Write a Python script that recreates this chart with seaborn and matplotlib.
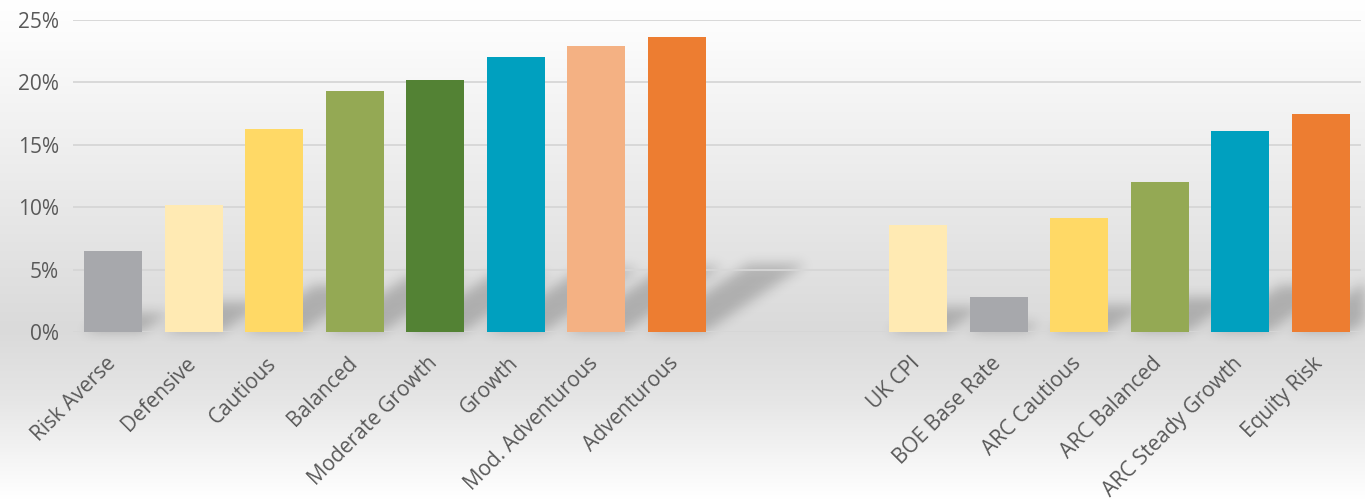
import numpy as np
import pandas as pd
import matplotlib
matplotlib.use("Agg")
import matplotlib.pyplot as plt
import matplotlib.transforms as mtransforms
import seaborn as sns
from matplotlib.ticker import FuncFormatter

# ---- data ----
portfolios = ["Risk Averse", "Defensive", "Cautious", "Balanced", "Moderate Growth",
              "Growth", "Mod. Adventurous", "Adventurous"]
portfolio_values = [6.5, 10.2, 16.3, 19.3, 20.2, 22.0, 22.9, 23.6]
benchmarks = ["UK CPI", "BOE Base Rate", "ARC Cautious", "ARC Balanced",
              "ARC Steady Growth", "Equity Risk"]
benchmark_values = [8.6, 2.8, 9.1, 12.0, 16.1, 17.5]
gap_slots = ["_gap1", "_gap2"]
yticks = [0, 5, 10, 15, 20, 25]

portfolio_colors = ["#A7A8AC", "#FFEAB3", "#FFD966", "#94A954", "#538234",
                    "#00A0BF", "#F4B183", "#ED7D31"]
benchmark_colors = ["#FFEAB3", "#A7A8AC", "#FFD966", "#94A954", "#00A0BF", "#ED7D31"]

df = pd.DataFrame({
    "name": portfolios + benchmarks,
    "value": portfolio_values + benchmark_values,
})
order = portfolios + gap_slots + benchmarks
palette = dict(zip(portfolios + benchmarks, portfolio_colors + benchmark_colors))

sns.set_theme(style="white")
plt.rcParams["font.family"] = ["Open Sans", "DejaVu Sans"]

W, H = 1365, 499
fig = plt.figure(figsize=(W / 100, H / 100), dpi=100)

# background gradient
bg = fig.add_axes([0, 0, 1, 1], zorder=-10)
ys = np.linspace(0, 1, 500)
stops_y = [0.0, 0.08, 0.66, 0.80, 1.0]
stops_v = [1.0, 0.985, 0.855, 0.90, 1.0]
vals = np.interp(ys, stops_y, stops_v)
grad = np.repeat(vals[:, None], 2, axis=1)
bg.imshow(np.dstack([grad, grad, grad]), aspect="auto", extent=[0, 1, 0, 1],
          origin="upper", zorder=0)
bg.set_xlim(0, 1)
bg.set_ylim(0, 1)
bg.set_axis_off()

ax = fig.add_axes([0.0535, 0.3347, 0.9435, 0.6253])
ax.patch.set_alpha(0)
sns.barplot(data=df, x="name", y="value", hue="name", order=order, palette=palette,
            legend=False, width=0.72, saturation=1, linewidth=0, ax=ax)

ax.set_xlim(-0.5, len(order) - 0.5)
ax.set_ylim(0, 25)
ax.set_yticks(yticks)
ax.yaxis.set_major_formatter(FuncFormatter(lambda v, p: f"{v:.0f}%"))
ax.grid(axis="y", color="#D6D6D6", linewidth=1.3)
ax.set_axisbelow(True)
for s in ax.spines.values():
    s.set_visible(False)
ax.set_xlabel("")
ax.set_ylabel("")
ax.set_xticks(range(len(order)))
ax.set_xticklabels([("" if n.startswith("_gap") else n) for n in order],
                   rotation=45, ha="right", rotation_mode="anchor")
ax.tick_params(axis="both", length=0, labelsize=15, colors="#595959")
ax.tick_params(axis="x", pad=15)
ax.tick_params(axis="y", pad=10)
shift = mtransforms.ScaledTranslation(-6 / 72, 0, fig.dpi_scale_trans)
for lbl in ax.get_xticklabels():
    lbl.set_transform(lbl.get_transform() + shift)

# ---- soft diagonal shadows derived from the drawn bars ----
fig.canvas.draw()
mask = np.zeros((H, W))
for p in ax.patches:
    bb = p.get_window_extent()
    if bb.height <= 0:
        continue
    x0, x1, yb = bb.x0, bb.x1, bb.y0
    hs = 0.23 * bb.height
    for t in range(int(hs) + 1):
        row = int(round(yb + t))
        if 0 <= row < H:
            sx = 1.5 * t
            a = int(max(0, x0 + sx)); b = int(min(W, x1 + sx))
            mask[row, a:b] = 1.0

def blur(m, sigma):
    r = int(3 * sigma)
    k = np.exp(-0.5 * (np.arange(-r, r + 1) / sigma) ** 2)
    k /= k.sum()
    m = np.apply_along_axis(lambda v: np.convolve(v, k, mode="same"), 0, m)
    m = np.apply_along_axis(lambda v: np.convolve(v, k, mode="same"), 1, m)
    return m

mask = blur(mask, 6.0)
shadow = np.zeros((H, W, 4))
shadow[..., 3] = 0.21 * mask
bg.imshow(shadow, aspect="auto", extent=[0, 1, 0, 1], origin="lower", zorder=1)

fig.savefig("out.png", dpi=100)
